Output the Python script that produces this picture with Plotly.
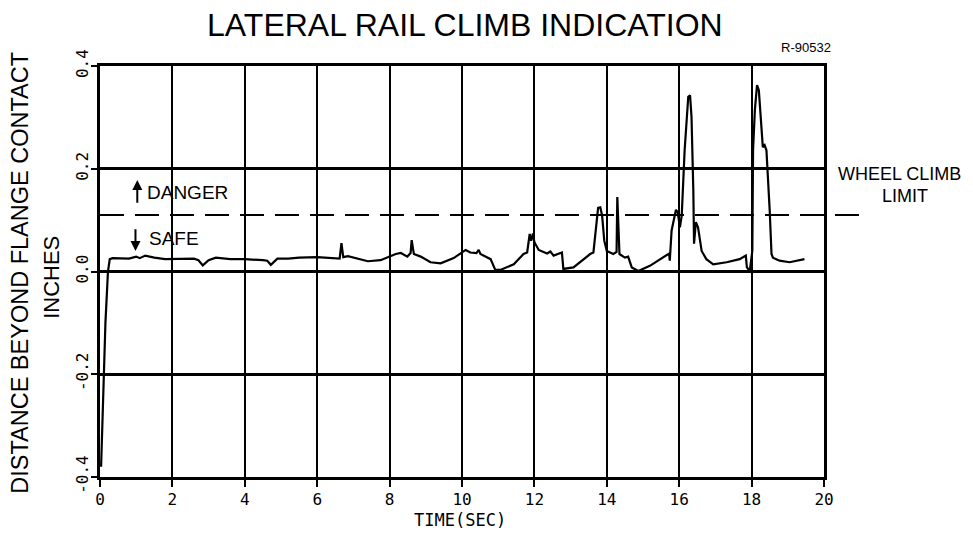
import plotly.graph_objects as go

# ---- data ----
time_sec = [0.03, 0.08, 0.15, 0.22, 0.27, 0.35, 0.5, 0.8, 1.0, 1.1, 1.25, 1.5, 1.8, 2.2, 2.6, 2.72, 2.84,
            3.0, 3.2, 3.6, 4.0, 4.5, 4.62, 4.72, 4.9, 5.2, 5.5, 6.0, 6.5, 6.62, 6.67, 6.72, 6.85, 7.1,
            7.4, 7.75, 8.17, 8.31, 8.49, 8.58, 8.61, 8.67, 8.86, 9.13, 9.41, 9.77, 10.10, 10.23,
            10.40, 10.46, 10.51, 10.79, 10.92, 11.06, 11.43, 11.70, 11.80, 11.87, 11.91, 11.96,
            12.00, 12.12, 12.35, 12.44, 12.53, 12.76, 12.80, 13.08, 13.54, 13.63, 13.72, 13.76,
            13.82, 13.87, 13.93, 14.00, 14.18, 14.27, 14.29, 14.35, 14.50, 14.59, 14.69, 14.87,
            15.19, 15.65, 15.72, 15.74, 15.79, 15.91, 15.96, 16.02, 16.07, 16.15, 16.25, 16.30,
            16.34, 16.39, 16.41, 16.46, 16.52, 16.62, 16.75, 16.94, 17.31, 17.67, 17.84, 17.87,
            17.95, 18.02, 18.04, 18.09, 18.15, 18.20, 18.24, 18.27, 18.31, 18.36, 18.41, 18.50,
            18.55, 18.59, 18.77, 19.05, 19.32, 19.46]
distance_in = [-0.38, -0.25, -0.10, 0.0, 0.024, 0.026, 0.026, 0.025, 0.029, 0.026, 0.031, 0.027, 0.024,
               0.025, 0.025, 0.022, 0.012, 0.022, 0.027, 0.024, 0.024, 0.022, 0.021, 0.013, 0.025,
               0.025, 0.027, 0.028, 0.026, 0.025, 0.055, 0.028, 0.030, 0.026, 0.020, 0.022, 0.034,
               0.036, 0.029, 0.036, 0.061, 0.034, 0.029, 0.018, 0.016, 0.026, 0.042, 0.037, 0.036,
               0.042, 0.034, 0.024, 0.003, 0.003, 0.014, 0.034, 0.037, 0.073, 0.060, 0.074, 0.057,
               0.042, 0.035, 0.039, 0.031, 0.037, 0.005, 0.008, 0.034, 0.037, 0.099, 0.124, 0.125,
               0.109, 0.060, 0.040, 0.034, 0.038, 0.145, 0.034, 0.027, 0.029, 0.008, 0.001, 0.011,
               0.031, 0.035, 0.021, 0.080, 0.120, 0.115, 0.086, 0.109, 0.236, 0.340, 0.343, 0.301,
               0.158, 0.054, 0.096, 0.086, 0.040, 0.024, 0.014, 0.018, 0.024, 0.031, 0.008, 0.001,
               0.040, 0.236, 0.314, 0.363, 0.353, 0.314, 0.268, 0.242, 0.246, 0.236, 0.119, 0.034,
               0.027, 0.021, 0.018, 0.021, 0.024]

wheel_climb_limit = 0.11
x_ticks = [0, 2, 4, 6, 8, 10, 12, 14, 16, 18, 20]
x_tick_labels = ["0", "2", "4", "6", "8", "10", "12", "14", "16", "18", "20"]
y_ticks = [-0.4, -0.2, 0.0, 0.2, 0.4]
y_tick_labels = ["-0.4", "-0.2", "0.0", "0.2", "0.4"]
x_range = [0, 20]
y_range = [-0.4, 0.4]

SANS = "Liberation Sans, Arial, sans-serif"
MONO = "DejaVu Sans Mono, monospace"

fig = go.Figure()
fig.add_trace(go.Scatter(x=time_sec, y=distance_in, mode="lines",
                         line=dict(color="black", width=2.2), showlegend=False,
                         hoverinfo="skip"))

# wheel climb limit (dashed, extends past plot to the right)
lim_paper = (wheel_climb_limit - y_range[0]) / (y_range[1] - y_range[0])
fig.add_shape(type="line", xref="paper", yref="paper", x0=0, x1=1.057,
              y0=lim_paper, y1=lim_paper,
              line=dict(color="black", width=1.8, dash="24px,11px"))

# DANGER / SAFE labels with arrows
fig.add_annotation(x=1.25, y=0.154, xref="x", yref="y", text="DANGER", showarrow=False,
                   xanchor="left", yanchor="middle", font=dict(family=SANS, size=19, color="black"))
fig.add_annotation(x=1.31, y=0.064, xref="x", yref="y", text="SAFE", showarrow=False,
                   xanchor="left", yanchor="middle", font=dict(family=SANS, size=19, color="black"))
fig.add_annotation(x=1.03, y=0.178, ax=1.03, ay=0.131, xref="x", yref="y", axref="x", ayref="y",
                   text="", showarrow=True, arrowhead=2, arrowsize=1, arrowwidth=2, arrowcolor="black")
fig.add_annotation(x=0.98, y=0.040, ax=0.98, ay=0.085, xref="x", yref="y", axref="x", ayref="y",
                   text="", showarrow=True, arrowhead=2, arrowsize=1, arrowwidth=2, arrowcolor="black")

# right side label
fig.add_annotation(x=1.016, y=0.737, xref="paper", yref="paper", text="WHEEL CLIMB",
                   showarrow=False, xanchor="left", yanchor="middle",
                   font=dict(family=SANS, size=18, color="black"))
fig.add_annotation(x=1.112, y=0.684, xref="paper", yref="paper", text="LIMIT",
                   showarrow=False, xanchor="center", yanchor="middle",
                   font=dict(family=SANS, size=18, color="black"))

# figure id
fig.add_annotation(x=0.975, y=1.044, xref="paper", yref="paper", text="R-90532",
                   showarrow=False, xanchor="center", yanchor="middle",
                   font=dict(family=SANS, size=13, color="black"))

# x axis title
fig.add_annotation(x=0.497, y=-0.1046, xref="paper", yref="paper", text="TIME(SEC)",
                   showarrow=False, xanchor="center", yanchor="middle",
                   font=dict(family=MONO, size=17, color="black"))

# y axis titles (two lines)
fig.add_annotation(x=-0.1105, y=0.497, xref="paper", yref="paper",
                   text="DISTANCE BEYOND FLANGE CONTACT", textangle=-90, showarrow=False,
                   xanchor="center", yanchor="middle", font=dict(family=SANS, size=23.5, color="black"))
fig.add_annotation(x=-0.0663, y=0.487, xref="paper", yref="paper",
                   text="INCHES", textangle=-90, showarrow=False,
                   xanchor="center", yanchor="middle", font=dict(family=SANS, size=22, color="black"))

fig.update_layout(
    width=965, height=525,
    margin=dict(l=92, r=149, t=58, b=56, autoexpand=False),
    paper_bgcolor="white", plot_bgcolor="white",
    title=dict(text="LATERAL RAIL CLIMB INDICATION", x=0.504, xref="paper", xanchor="center",
               y=1 - 17 / 525, yanchor="middle", yref="container",
               font=dict(family=SANS, size=32, color="black")),
    xaxis=dict(range=x_range, tickvals=x_ticks, ticktext=x_tick_labels,
               showgrid=True, gridcolor="black", gridwidth=1.8,
               showline=True, linecolor="black", linewidth=2.5, mirror=True,
               ticks="outside", ticklen=7, tickwidth=1.5, tickcolor="black",
               ticklabelstandoff=-1, automargin=False,
               tickfont=dict(family=MONO, size=16, color="black"),
               zeroline=False),
    yaxis=dict(range=y_range, tickvals=y_ticks, ticktext=y_tick_labels,
               showgrid=True, gridcolor="black", gridwidth=3,
               showline=True, linecolor="black", linewidth=2.5, mirror=True,
               ticks="outside", ticklen=6, tickwidth=1.5, tickcolor="black",
               tickangle=-90, ticklabelstandoff=-3, automargin=False,
               tickfont=dict(family=MONO, size=16, color="black"),
               zeroline=False),
)

fig.write_html("out.html")
